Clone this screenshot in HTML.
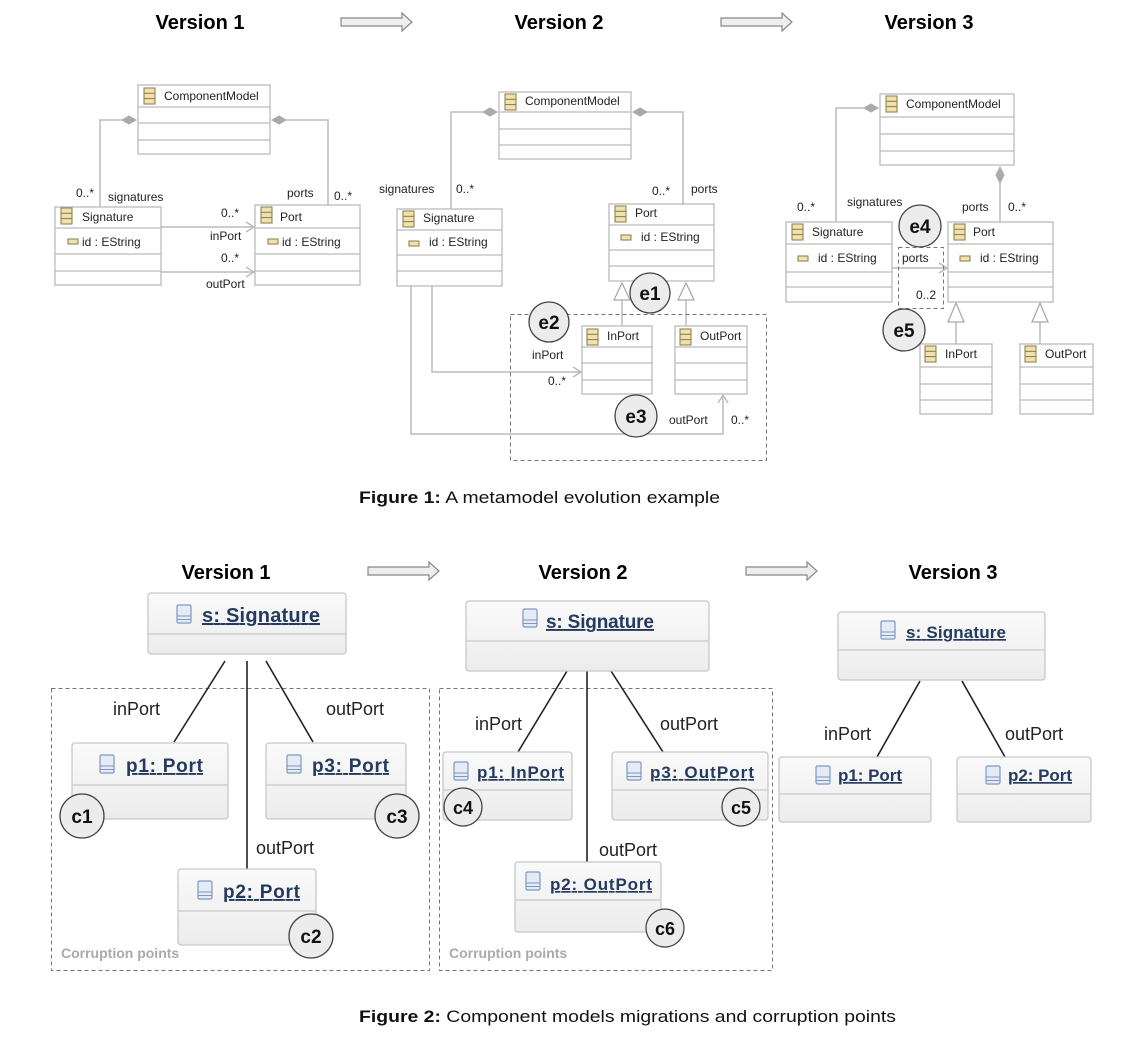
<!DOCTYPE html>
<html><head><meta charset="utf-8"><style>
html,body{margin:0;padding:0;background:#fff;}
svg{display:block;}
text{font-family:"Liberation Sans",sans-serif;}
</style></head><body>
<svg width="1148" height="1050" viewBox="0 0 1148 1050" xmlns="http://www.w3.org/2000/svg">
<defs>
<g id="ci"><rect x="0" y="0" width="11" height="16" fill="#efe2b0" stroke="#8a7a40" stroke-width="1"/><line x1="0" y1="5.3" x2="11" y2="5.3" stroke="#8a7a40"/><line x1="0" y1="10.6" x2="11" y2="10.6" stroke="#8a7a40"/></g>
<g id="ai"><rect x="0" y="0" width="10" height="5" fill="#efe2b0" stroke="#8a7a40" stroke-width="1"/></g>
<g id="oi"><rect x="0" y="0" width="14" height="18" rx="1.5" fill="#e4ebf5" stroke="#7d98c0" stroke-width="1.2"/><line x1="0" y1="11" x2="14" y2="11" stroke="#7d98c0"/><line x1="0" y1="14.5" x2="14" y2="14.5" stroke="#7d98c0"/></g>
<linearGradient id="og" x1="0" y1="0" x2="0" y2="1"><stop offset="0" stop-color="#fafafa"/><stop offset="1" stop-color="#ececec"/></linearGradient>
</defs>

<g font-weight="bold" font-size="20" text-anchor="middle" fill="#000">
<text x="200" y="29">Version 1</text><text x="559" y="29">Version 2</text><text x="929" y="29">Version 3</text>
<text x="226" y="579">Version 1</text><text x="583" y="579">Version 2</text><text x="953" y="579">Version 3</text>
</g>
<g fill="#eee" stroke="#888" stroke-width="1.2">
<polygon points="341,18 402,18 402,13 412,22 402,31 402,26 341,26"/>
<polygon points="721,18 782,18 782,13 792,22 782,31 782,26 721,26"/>
<polygon points="368,567 429,567 429,562 439,571 429,580 429,575 368,575"/>
<polygon points="746,567 807,567 807,562 817,571 807,580 807,575 746,575"/>
</g>

<g stroke="#bbb" stroke-width="1.5" fill="none">
<polyline points="122,120 100,120 100,207"/>
<polyline points="286,120 328,120 328,205"/>
<line x1="161" y1="227" x2="254" y2="227"/><polyline points="246,222 254,227 246,232"/>
<line x1="161" y1="272" x2="254" y2="272"/><polyline points="246,267 254,272 246,277"/>
<polyline points="483,112 451,112 451,209"/>
<polyline points="647,112 683,112 683,204"/>
<polyline points="432,286 432,372 581,372"/><polyline points="573,367 581,372 573,377"/>
<polyline points="411,286 411,434 723,434 723,395"/><polyline points="718,403 723,395 728,403"/>
<line x1="622" y1="300" x2="622" y2="326"/><line x1="686" y1="300" x2="686" y2="326"/>
<polyline points="864,108 836,108 836,222"/>
<line x1="1000" y1="183" x2="1000" y2="222"/>
<line x1="892" y1="268" x2="947" y2="268"/><polyline points="939,263 947,268 939,273"/>
<line x1="956" y1="322" x2="956" y2="344"/><line x1="1040" y1="322" x2="1040" y2="344"/>
</g>
<g fill="#aaa" stroke="#aaa">
<polygon points="122,120 129,116 136,120 129,124"/><polygon points="272,120 279,116 286,120 279,124"/>
<polygon points="483,112 490,108 497,112 490,116"/><polygon points="633,112 640,108 647,112 640,116"/>
<polygon points="864,108 871,104 878,108 871,112"/><polygon points="1000,167 1004,175 1000,183 996,175"/>
</g>
<g fill="#fff" stroke="#aaa" stroke-width="1.3">
<polygon points="622,283 614,300 630,300"/><polygon points="686,283 678,300 694,300"/>
<polygon points="956,303 948,322 964,322"/><polygon points="1040,303 1032,322 1048,322"/>
</g>
<g fill="none" stroke="#777" stroke-width="1" stroke-dasharray="4,3">
<rect x="510.5" y="314.5" width="256" height="146"/>
<rect x="898.5" y="247.5" width="45" height="61"/>
<rect x="51.5" y="688.5" width="378" height="282"/>
<rect x="439.5" y="688.5" width="333" height="282"/>
</g>

<g fill="#fff" stroke="#bbb" stroke-width="1.3">
<rect x="138" y="85" width="132" height="69"/><line x1="138" y1="107" x2="270" y2="107"/><line x1="138" y1="123" x2="270" y2="123"/><line x1="138" y1="140" x2="270" y2="140"/>
<rect x="55" y="207" width="106" height="78"/><line x1="55" y1="228" x2="161" y2="228"/><line x1="55" y1="254" x2="161" y2="254"/><line x1="55" y1="271" x2="161" y2="271"/>
<rect x="255" y="205" width="105" height="80"/><line x1="255" y1="228" x2="360" y2="228"/><line x1="255" y1="254" x2="360" y2="254"/><line x1="255" y1="271" x2="360" y2="271"/>
<rect x="499" y="92" width="132" height="67"/><line x1="499" y1="112" x2="631" y2="112"/><line x1="499" y1="129" x2="631" y2="129"/><line x1="499" y1="145" x2="631" y2="145"/>
<rect x="397" y="209" width="105" height="77"/><line x1="397" y1="230" x2="502" y2="230"/><line x1="397" y1="255" x2="502" y2="255"/><line x1="397" y1="271" x2="502" y2="271"/>
<rect x="609" y="204" width="105" height="77"/><line x1="609" y1="225" x2="714" y2="225"/><line x1="609" y1="250" x2="714" y2="250"/><line x1="609" y1="266" x2="714" y2="266"/>
<rect x="582" y="326" width="70" height="68"/><line x1="582" y1="347" x2="652" y2="347"/><line x1="582" y1="363" x2="652" y2="363"/><line x1="582" y1="380" x2="652" y2="380"/>
<rect x="675" y="326" width="72" height="68"/><line x1="675" y1="347" x2="747" y2="347"/><line x1="675" y1="363" x2="747" y2="363"/><line x1="675" y1="380" x2="747" y2="380"/>
<rect x="880" y="94" width="134" height="71"/><line x1="880" y1="117" x2="1014" y2="117"/><line x1="880" y1="134" x2="1014" y2="134"/><line x1="880" y1="151" x2="1014" y2="151"/>
<rect x="786" y="222" width="106" height="80"/><line x1="786" y1="244" x2="892" y2="244"/><line x1="786" y1="272" x2="892" y2="272"/><line x1="786" y1="287" x2="892" y2="287"/>
<rect x="948" y="222" width="105" height="80"/><line x1="948" y1="244" x2="1053" y2="244"/><line x1="948" y1="272" x2="1053" y2="272"/><line x1="948" y1="287" x2="1053" y2="287"/>
<rect x="920" y="344" width="72" height="70"/><line x1="920" y1="367" x2="992" y2="367"/><line x1="920" y1="384" x2="992" y2="384"/><line x1="920" y1="400" x2="992" y2="400"/>
<rect x="1020" y="344" width="73" height="70"/><line x1="1020" y1="367" x2="1093" y2="367"/><line x1="1020" y1="384" x2="1093" y2="384"/><line x1="1020" y1="400" x2="1093" y2="400"/>
</g>
<use href="#ci" x="144" y="88"/><use href="#ci" x="61" y="208"/><use href="#ci" x="261" y="207"/>
<use href="#ai" x="68" y="239"/><use href="#ai" x="268" y="239"/>
<use href="#ci" x="505" y="94"/><use href="#ci" x="403" y="211"/><use href="#ci" x="615" y="206"/>
<use href="#ai" x="409" y="241"/><use href="#ai" x="621" y="235"/>
<use href="#ci" x="587" y="329"/><use href="#ci" x="680" y="329"/>
<use href="#ci" x="886" y="96"/><use href="#ci" x="792" y="224"/><use href="#ci" x="954" y="224"/>
<use href="#ai" x="798" y="256"/><use href="#ai" x="960" y="256"/>
<use href="#ci" x="925" y="346"/><use href="#ci" x="1025" y="346"/>

<g font-size="12" fill="#222">
<text x="164" y="100">ComponentModel</text>
<text x="82" y="221">Signature</text><text x="82" y="246">id : EString</text>
<text x="280" y="221">Port</text><text x="282" y="246">id : EString</text>
<text x="76" y="197">0..*</text><text x="108" y="201">signatures</text>
<text x="287" y="197">ports</text><text x="334" y="200">0..*</text>
<text x="221" y="217">0..*</text><text x="210" y="240">inPort</text>
<text x="221" y="262">0..*</text><text x="206" y="288">outPort</text>
<text x="525" y="105">ComponentModel</text>
<text x="423" y="222">Signature</text><text x="429" y="246">id : EString</text>
<text x="635" y="217">Port</text><text x="641" y="241">id : EString</text>
<text x="379" y="193">signatures</text><text x="456" y="193">0..*</text>
<text x="652" y="195">0..*</text><text x="691" y="193">ports</text>
<text x="607" y="340">InPort</text><text x="700" y="340">OutPort</text>
<text x="532" y="359">inPort</text><text x="548" y="385">0..*</text>
<text x="669" y="424">outPort</text><text x="731" y="424">0..*</text>
<text x="906" y="108">ComponentModel</text>
<text x="812" y="236">Signature</text><text x="818" y="262">id : EString</text>
<text x="973" y="236">Port</text><text x="980" y="262">id : EString</text>
<text x="797" y="211">0..*</text><text x="847" y="206">signatures</text>
<text x="962" y="211">ports</text><text x="1008" y="211">0..*</text>
<text x="902" y="262">ports</text><text x="916" y="299">0..2</text>
<text x="945" y="358">InPort</text><text x="1045" y="358">OutPort</text>
</g>

<g stroke="#222" stroke-width="1.6">
<line x1="225" y1="661" x2="174" y2="742"/><line x1="247" y1="661" x2="247" y2="869"/><line x1="266" y1="661" x2="313" y2="742"/>
<line x1="567" y1="671" x2="518" y2="752"/><line x1="587" y1="671" x2="587" y2="862"/><line x1="611" y1="671" x2="663" y2="752"/>
<line x1="920" y1="681" x2="877" y2="757"/><line x1="962" y1="681" x2="1005" y2="757"/>
</g>
<g fill="url(#og)" stroke="#c8c8c8" stroke-width="1.3">
<rect x="148" y="593" width="198" height="61" rx="3"/><line x1="148" y1="634" x2="346" y2="634"/>
<rect x="72" y="743" width="156" height="76" rx="3"/><line x1="72" y1="785" x2="228" y2="785"/>
<rect x="266" y="743" width="140" height="76" rx="3"/><line x1="266" y1="785" x2="406" y2="785"/>
<rect x="178" y="869" width="138" height="76" rx="3"/><line x1="178" y1="911" x2="316" y2="911"/>
<rect x="466" y="601" width="243" height="70" rx="3"/><line x1="466" y1="641" x2="709" y2="641"/>
<rect x="443" y="752" width="129" height="68" rx="3"/><line x1="443" y1="790" x2="572" y2="790"/>
<rect x="612" y="752" width="156" height="68" rx="3"/><line x1="612" y1="790" x2="768" y2="790"/>
<rect x="515" y="862" width="146" height="70" rx="3"/><line x1="515" y1="900" x2="661" y2="900"/>
<rect x="838" y="612" width="207" height="68" rx="3"/><line x1="838" y1="650" x2="1045" y2="650"/>
<rect x="779" y="757" width="152" height="65" rx="3"/><line x1="779" y1="794" x2="931" y2="794"/>
<rect x="957" y="757" width="134" height="65" rx="3"/><line x1="957" y1="794" x2="1091" y2="794"/>
</g>
<use href="#oi" x="177" y="605"/><use href="#oi" x="100" y="755"/><use href="#oi" x="287" y="755"/><use href="#oi" x="198" y="881"/>
<use href="#oi" x="523" y="609"/><use href="#oi" x="454" y="762"/><use href="#oi" x="627" y="762"/><use href="#oi" x="526" y="872"/>
<use href="#oi" x="881" y="621"/><use href="#oi" x="816" y="766"/><use href="#oi" x="986" y="766"/>
<g font-weight="bold" fill="#243a5e" text-decoration="underline">
<text x="202" y="622" font-size="20" textLength="118">s: Signature</text>
<text x="126" y="772" font-size="19" textLength="77">p1: Port</text>
<text x="312" y="772" font-size="19" textLength="77">p3: Port</text>
<text x="223" y="898" font-size="19" textLength="77">p2: Port</text>
<text x="546" y="628" font-size="19" textLength="108">s: Signature</text>
<text x="477" y="778" font-size="17" textLength="87">p1: InPort</text>
<text x="650" y="778" font-size="17" textLength="104">p3: OutPort</text>
<text x="550" y="890" font-size="17" textLength="102">p2: OutPort</text>
<text x="906" y="638" font-size="17" textLength="100">s: Signature</text>
<text x="838" y="781" font-size="17" textLength="64">p1: Port</text>
<text x="1008" y="781" font-size="17" textLength="64">p2: Port</text>
</g>
<g font-size="18" fill="#222">
<text x="113" y="715">inPort</text><text x="326" y="715">outPort</text><text x="256" y="854">outPort</text>
<text x="475" y="730">inPort</text><text x="660" y="730">outPort</text><text x="599" y="856">outPort</text>
<text x="824" y="740">inPort</text><text x="1005" y="740">outPort</text>
</g>
<g font-size="14" font-weight="bold" fill="#aaa">
<text x="61" y="958">Corruption points</text><text x="449" y="958">Corruption points</text>
</g>

<g fill="#ececec" stroke="#444" stroke-width="1.3">
<circle cx="650" cy="293" r="20"/><circle cx="549" cy="322" r="20"/><circle cx="636" cy="416" r="21"/>
<circle cx="920" cy="226" r="21"/><circle cx="904" cy="330" r="21"/>
<circle cx="82" cy="816" r="22"/><circle cx="397" cy="816" r="22"/><circle cx="311" cy="936" r="22"/>
<circle cx="463" cy="807" r="19"/><circle cx="741" cy="807" r="19"/><circle cx="665" cy="928" r="19"/>
</g>
<g font-weight="bold" font-size="19" text-anchor="middle" fill="#111">
<text x="650" y="300">e1</text><text x="549" y="329">e2</text><text x="636" y="423">e3</text>
<text x="920" y="233">e4</text><text x="904" y="337">e5</text>
<text x="82" y="823">c1</text><text x="397" y="823">c3</text><text x="311" y="943">c2</text>
<text x="463" y="814" font-size="18">c4</text><text x="741" y="814" font-size="18">c5</text><text x="665" y="935" font-size="18">c6</text>
</g>

<g font-size="17" fill="#111">
<text x="359" y="503" textLength="361" lengthAdjust="spacingAndGlyphs"><tspan font-weight="bold">Figure 1:</tspan> A metamodel evolution example</text>
<text x="359" y="1022" textLength="537" lengthAdjust="spacingAndGlyphs"><tspan font-weight="bold">Figure 2:</tspan> Component models migrations and corruption points</text>
</g>
</svg>
</body></html>
